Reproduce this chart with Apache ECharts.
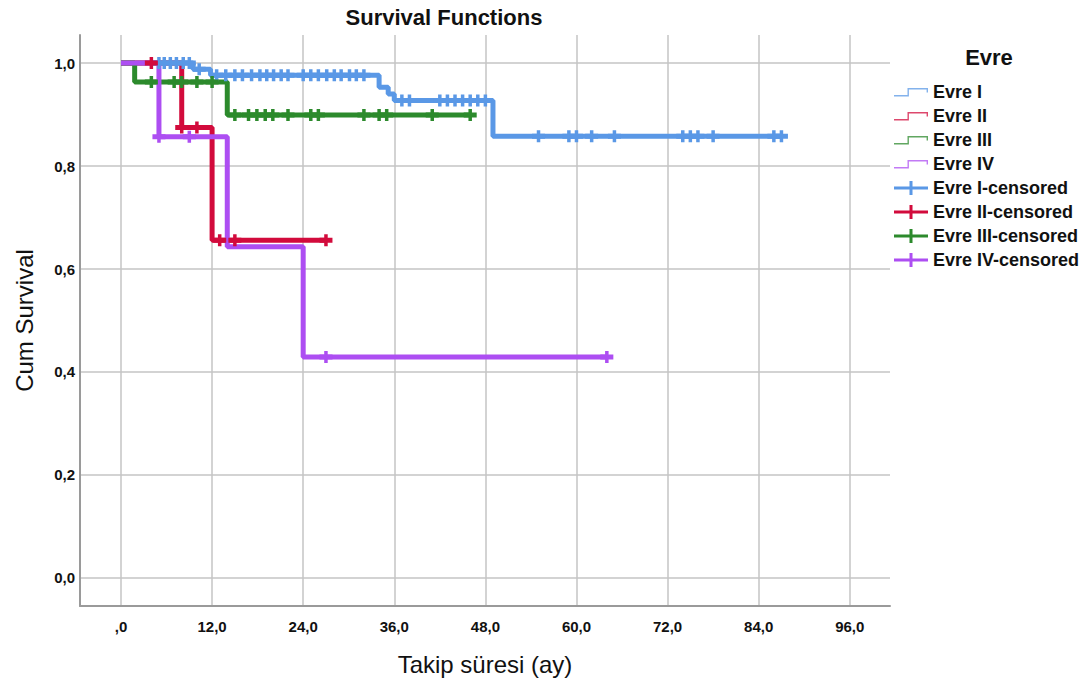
<!DOCTYPE html>
<html><head><meta charset="utf-8">
<script src="https://cdn.jsdelivr.net/npm/echarts@6/dist/echarts.min.js"></script>
<style>html,body{margin:0;padding:0;background:#fff}#c{width:1091px;height:682px}</style>
</head><body><div id="c"></div>
<script>
// ---- data ----
const groupNames = ['Evre I', 'Evre II', 'Evre III', 'Evre IV'];

const evreI_eventTimes = [0, 9.5, 11.8, 34.0, 35.2, 36.0, 49.0];
const evreI_survival   = [1.0, 0.988, 0.976, 0.953, 0.940, 0.927, 0.858];
const evreI_censored   = [5.0, 5.7, 6.5, 7.3, 8.2, 9.0, 10.3,
  12.6, 13.8, 15.0, 16.0, 17.2, 18.3, 19.2, 20.1, 21.1, 22.0, 24.0, 25.0, 26.0, 27.1, 28.1, 29.0, 30.1, 31.0, 32.0,
  37.0, 38.0, 42.0, 43.0, 44.0, 45.0, 46.0, 47.0, 48.0,
  55.0, 59.0, 60.0, 62.0, 65.0, 74.0, 75.0, 76.0, 78.0, 86.0, 87.0];

const evreII_eventTimes = [0, 8.0, 12.0];
const evreII_survival   = [1.0, 0.875, 0.656];
const evreII_censored   = [4.0, 8.0, 10.0, 13.0, 15.0, 27.0];

const evreIII_eventTimes = [0, 1.8, 14.0];
const evreIII_survival   = [1.0, 0.963, 0.899];
const evreIII_censored   = [4.0, 7.0, 8.0, 10.0, 12.0,
  15.0, 16.8, 17.9, 19.0, 20.0, 22.0, 25.0, 26.0, 32.0, 34.0, 35.0, 41.0, 46.0];

const evreIV_eventTimes = [0, 5.0, 14.0, 24.0];
const evreIV_survival   = [1.0, 0.857, 0.643, 0.429];
const evreIV_censored   = [5.0, 9.0, 27.0, 64.0];

const xTicks = [0, 12, 24, 36, 48, 60, 72, 84, 96];
const yTicks = [0, 0.2, 0.4, 0.6, 0.8, 1.0];

// ---- styling ----
const colors = ['#5A98E6', '#D20B3C', '#2C8A2C', '#AD4EF2'];
const groups = [
  [evreI_eventTimes, evreI_survival, evreI_censored],
  [evreII_eventTimes, evreII_survival, evreII_censored],
  [evreIII_eventTimes, evreIII_survival, evreIII_censored],
  [evreIV_eventTimes, evreIV_survival, evreIV_censored]
];

function survAt(times, surv, t) {
  let s = surv[0];
  for (let i = 0; i < times.length; i++) if (times[i] <= t) s = surv[i];
  return s;
}
function stepData(times, surv, cens) {
  const d = times.map((t, i) => [t, surv[i]]);
  const end = Math.max(times[times.length - 1], ...cens);
  d.push([end, surv[surv.length - 1]]);
  return d;
}

const plusPath = 'path://M4.75,0L8.25,0L8.25,3.5L13,3.5L13,8.5L8.25,8.5L8.25,12L4.75,12L4.75,8.5L0,8.5L0,3.5L4.75,3.5Z';
const legendStep = 'path://M0,0L0.01,0L0,0.01Z M0,14L0.01,14L0,13.99Z M0,10L13.5,10L13.5,3L34,3L34,7.5L32.6,7.5L32.6,4.4L14.9,4.4L14.9,11.4L0,11.4Z';
const legendPlus = 'path://M0,5.5L15.5,5.5L15.5,0L18.5,0L18.5,5.5L34,5.5L34,8.5L18.5,8.5L18.5,14L15.5,14L15.5,8.5L0,8.5Z';

const series = [];
groups.forEach((g, i) => {
  series.push({
    name: groupNames[i], type: 'line', step: 'end', symbol: 'none',
    data: stepData(g[0], g[1], g[2]),
    lineStyle: { color: colors[i], width: 5 }, itemStyle: { color: colors[i] },
    silent: true, animation: false, z: 2
  });
});
groups.forEach((g, i) => {
  series.push({
    name: groupNames[i] + '-censored', type: 'scatter',
    symbol: plusPath, symbolSize: [13, 12],
    data: g[2].map(t => [t, survAt(g[0], g[1], t)]),
    itemStyle: { color: colors[i], opacity: 1 },
    silent: true, animation: false, z: 3
  });
});

const legendData = [];
groupNames.forEach((n, i) => legendData.push({ name: n, icon: legendStep, itemStyle: { color: colors[i], opacity: 0.75 } }));
groupNames.forEach((n, i) => legendData.push({ name: n + '-censored', icon: legendPlus }));

const fmt = v => (Math.round(v * 10) / 10).toFixed(1).replace('.', ',');
const FONT = '"Liberation Sans", Arial, sans-serif';

const chart = echarts.init(document.getElementById('c'), null, { renderer: 'svg' });
chart.setOption({
  animation: false,
  backgroundColor: '#fff',
  textStyle: { fontFamily: FONT },
  graphic: [
    { type: 'text', x: 444, y: 17, style: { text: 'Survival Functions', textAlign: 'center', textVerticalAlign: 'middle', font: 'bold 22px ' + FONT, fill: '#111' } },
    { type: 'text', x: 989, y: 57, style: { text: 'Evre', textAlign: 'center', textVerticalAlign: 'middle', font: 'bold 22px ' + FONT, fill: '#111' } }
  ],
  legend: {
    orient: 'vertical', left: 894, top: 83, itemWidth: 34, itemHeight: 14, itemGap: 6, padding: 0,
    selectedMode: false,
    textStyle: { fontSize: 18, fontWeight: 'bold', color: '#111', padding: [0, 0, 0, 0] },
    data: legendData
  },
  grid: { left: 80, right: 201, top: 35, bottom: 76, containLabel: false },
  xAxis: {
    type: 'value', min: -5.4, max: 101.3,
    name: 'Takip süresi (ay)', nameLocation: 'middle', nameGap: 46,
    nameTextStyle: { fontSize: 24, color: '#111' },
    axisLine: { show: true, onZero: false, lineStyle: { color: '#9a9a9a', width: 2 } },
    axisTick: { show: false, customValues: xTicks },
    axisLabel: { customValues: xTicks, margin: 13, fontSize: 15, fontWeight: 'bold', color: '#111',
      formatter: v => v === 0 ? ',0' : fmt(v) },
    splitLine: { show: true, lineStyle: { color: '#c4c4c4', width: 1.5 } }
  },
  yAxis: {
    type: 'value', min: -0.0544, max: 1.0544,
    name: 'Cum Survival', nameLocation: 'middle', nameGap: 44, nameRotate: 90,
    nameTextStyle: { fontSize: 24, color: '#111' },
    axisLine: { show: true, onZero: false, lineStyle: { color: '#9a9a9a', width: 2 } },
    axisTick: { show: false, customValues: yTicks },
    axisLabel: { customValues: yTicks, margin: 5, fontSize: 15, fontWeight: 'bold', color: '#111',
      formatter: v => fmt(v) },
    splitLine: { show: true, lineStyle: { color: '#c4c4c4', width: 1.5 } }
  },
  series: series
});
</script>
</body></html>
